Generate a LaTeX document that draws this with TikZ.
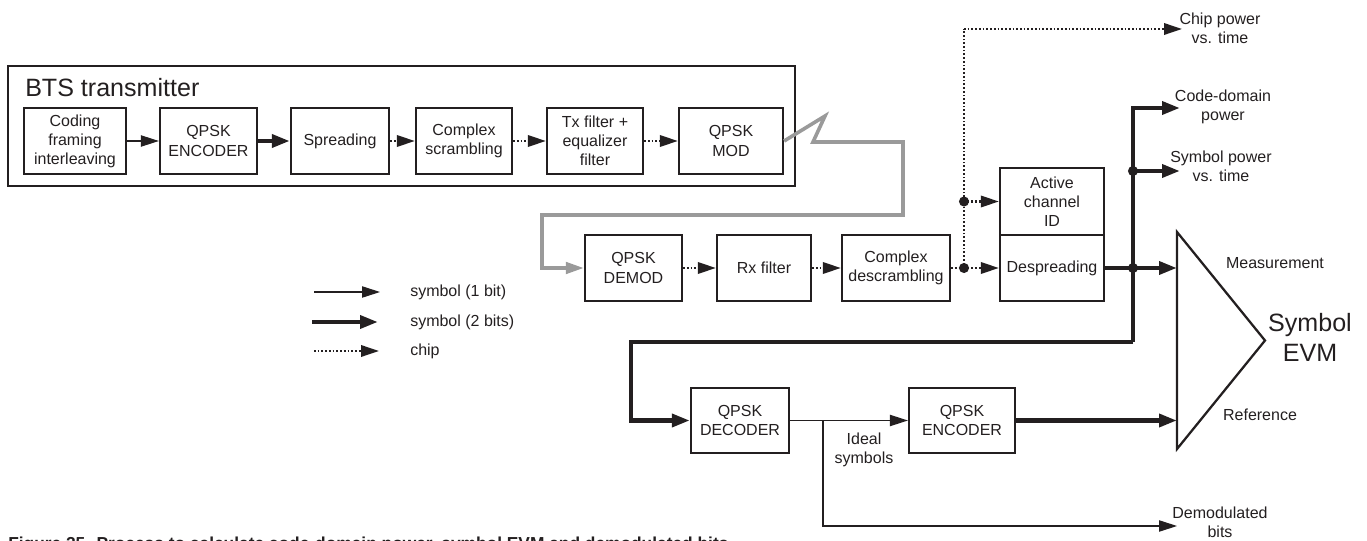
\documentclass[tikz,border=0pt]{standalone}
\usepackage{fontspec}
\setmainfont{Liberation Sans}
\usetikzlibrary{arrows.meta}
\definecolor{ink}{HTML}{231F20}
\definecolor{wire}{HTML}{9A9A9A}
\begin{document}
\begin{tikzpicture}[x=0.75pt,y=-0.75pt,
  every node/.style={text=ink, font=\fontsize{12}{14.3}\selectfont},
  blk/.style={draw=ink, line width=1.7pt, inner sep=0pt, align=center, minimum height=49.5pt},
  lbl/.style={align=center, inner sep=0pt},
  tipA/.style={-{Triangle[length=13.5pt,width=8.5pt]}},
  tipB/.style={-{Triangle[length=13.5pt,width=9.5pt]}},
  onebit/.style={draw=ink, line width=0.8pt},
  twobit/.style={draw=ink, line width=3.3pt},
  chipl/.style={draw=ink, line width=1.8pt, dash pattern=on 1.3pt off 1.5pt},
  rf/.style={draw=wire, line width=2.7pt, -{Triangle[length=13.5pt,width=8.5pt]}, wire},
  jdot/.style={fill=ink}]
\useasboundingbox (0,0) rectangle (1367,541);

% BTS transmitter
\node[draw=ink, line width=1.7pt, minimum width=590.25pt, minimum height=90pt, inner sep=0pt] (bts) at (401.5,126) {};
\node[anchor=base west, inner sep=0pt, font=\fontsize{18.8}{22}\selectfont] (btslbl) at (25,97) {BTS transmitter};

\node[blk, minimum width=76.5pt] (coding) at (75,141) {Coding\\framing\\interleaving};
\node[blk, minimum width=72.75pt] (enc1) at (208.5,141) {QPSK\\ENCODER};
\node[blk, minimum width=73.5pt] (spread) at (340,141) {Spreading};
\node[blk, minimum width=72pt] (scram) at (464,141) {Complex\\scrambling};
\node[blk, minimum width=72pt] (txf) at (595,141) {Tx filter +\\equalizer\\filter};
\node[blk, minimum width=78pt] (mod) at (731,141) {QPSK\\MOD};

\draw[onebit, tipA] (coding) -- (enc1);
\draw[twobit, tipB] (enc1) -- (spread);
\draw[chipl, tipA] (spread) -- (scram);
\draw[chipl, tipA] (scram) -- (txf);
\draw[chipl, tipA] (txf) -- (mod);

% receiver chain
\node[blk, minimum width=72.75pt] (demod) at (633.5,268) {QPSK\\DEMOD};
\node[blk, minimum width=70.5pt] (rxf) at (764,268) {Rx filter};
\node[blk, minimum width=81pt] (descr) at (896,268) {Complex\\descrambling};
\node[blk, minimum width=78pt, minimum height=50.25pt] (active) at (1052,201.5) {Active\\channel\\ID};
\node[blk, minimum width=78pt] (desp) at (1052,268) {Despreading};
\node[blk, minimum width=73.5pt, minimum height=48.75pt] (dec) at (740,420.5) {QPSK\\DECODER};
\node[blk, minimum width=79.5pt, minimum height=48.75pt] (enc2) at (962,420.5) {QPSK\\ENCODER};

% air link
\coordinate (z1) at (825,116);
\coordinate (z2) at (813,142);
\coordinate (z3) at (903,142);
\coordinate (z4) at (903,215);
\coordinate (z5) at (542,215);
\coordinate (z6) at (542,268);
\draw[rf] (mod.east) -- (z1) -- (z2) -- (z3) -- (z4) -- (z5) -- (z6) -- (demod.west);

\draw[chipl, tipA] (demod) -- (rxf);
\draw[chipl, tipA] (rxf) -- (descr);

% chip branches
\coordinate (d1) at (964,268);
\coordinate (d2) at (964,201.5);
\coordinate (d3) at (964,29);
\coordinate (chipend) at (1182,29);
\draw[chipl] (descr.east) -- (d1);
\draw[chipl] (d1) -- (d2) -- (d3);
\draw[chipl, tipA] (d3) -- (chipend);
\draw[chipl, tipA] (d1) -- (desp.west);
\draw[chipl, tipA] (d2) -- (active.west);
\fill[jdot] (d1) circle[radius=3.8pt];
\fill[jdot] (d2) circle[radius=3.8pt];

% EVM triangle
\coordinate (ta) at (1177,232);
\coordinate (tb) at (1265,340.5);
\coordinate (tc) at (1177,449);
\draw[ink, line width=1.7pt, line join=miter] (ta) -- (tb) -- (tc) -- cycle;

% symbol branches
\coordinate (j1) at (1133,268);
\coordinate (j2) at (1133,171);
\coordinate (jt) at (1133,108);
\coordinate (jb) at (1133,342);
\coordinate (jl) at (631,342);
\coordinate (jd) at (631,420.5);
\coordinate (cdp) at (1180,108);
\coordinate (spt) at (1180,171);
\coordinate (meas) at (1177,268);
\draw[twobit, tipB] (desp.east) -- (meas);
\draw[twobit, tipB] (j2) -- (spt);
\draw[twobit, tipB] (jb) -- (jt) -- (cdp);
\draw[twobit, tipB] (jb) -- (jl) -- (jd) -- (dec.west);
\fill[jdot] (j1) circle[radius=3.8pt];
\fill[jdot] (j2) circle[radius=3.8pt];

% decoder / encoder links
\draw[onebit, tipA] (dec) -- (enc2);
\coordinate (b1) at (823,420.5);
\coordinate (b2) at (823,526);
\coordinate (demend) at (1177,526);
\draw[onebit, tipA] (b1) -- (b2) -- (demend);
\coordinate (ref) at (1177,420.5);
\draw[twobit, tipB] (enc2) -- (ref);

% labels
\node[lbl] (chiplbl) at (1220,28) {Chip power\\vs. time};
\node[lbl] (cdplbl) at (1223,107) {Code-domain\\power};
\node[lbl] (spvlbl) at (1221,166) {Symbol power\\vs. time};
\node[lbl] (measlbl) at (1275,263) {Measurement};
\node[lbl, font=\fontsize{18.8}{22.5}\selectfont] (evm) at (1310,337) {Symbol\\EVM};
\node[lbl] (reflbl) at (1260,415) {Reference};
\node[lbl] (demlbl) at (1220,522) {Demodulated\\bits};
\node[lbl] (ideal) at (864,450) {Ideal\\symbols};

% legend
\coordinate (l1a) at (314,292); \coordinate (l1b) at (380,292);
\coordinate (l2a) at (312,322); \coordinate (l2b) at (378,322);
\coordinate (l3a) at (314,351); \coordinate (l3b) at (379,351);
\draw[onebit, tipA] (l1a) -- (l1b);
\draw[twobit, tipB] (l2a) -- (l2b);
\draw[chipl, tipA] (l3a) -- (l3b);
\node[anchor=west, inner sep=0pt] (lg1) at (410,292) {symbol (1 bit)};
\node[anchor=west, inner sep=0pt] (lg2) at (410,322) {symbol (2 bits)};
\node[anchor=west, inner sep=0pt] (lg3) at (410,351) {chip};

% caption (cut by the page edge, as in the reference)
\node[anchor=base west, inner sep=0pt, font=\bfseries\fontsize{13}{15}\selectfont] (cap) at (8,549) {Figure 25. Process to calculate code-domain power, symbol EVM and demodulated bits};
\end{tikzpicture}
\end{document}
